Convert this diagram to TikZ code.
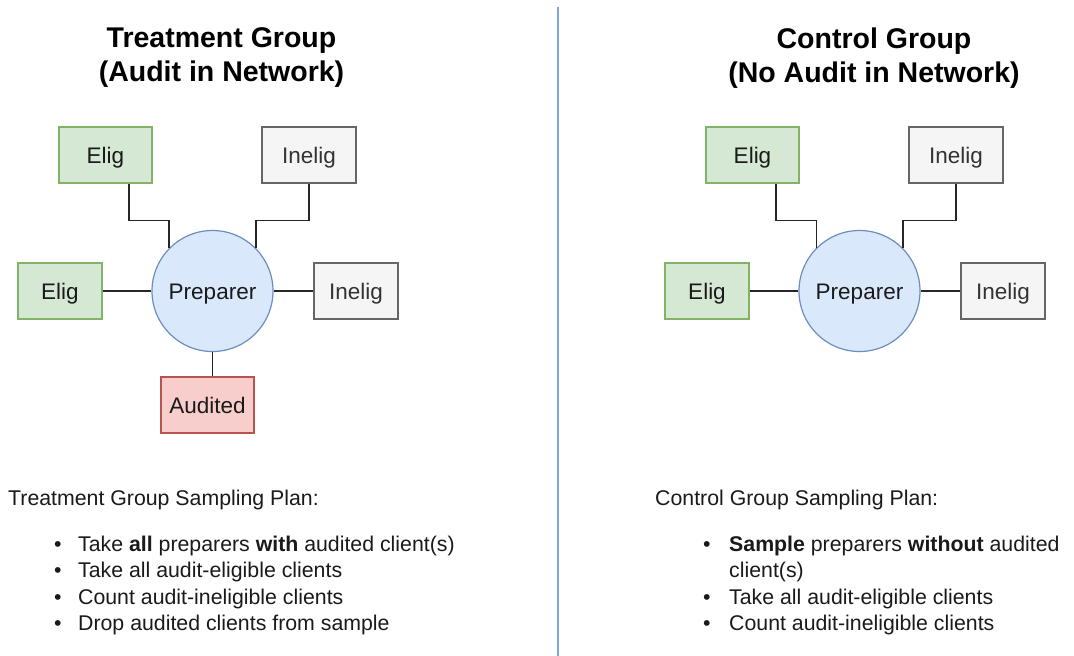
\documentclass[tikz,border=0pt]{standalone}
\usepackage{fontspec}
\setmainfont{Liberation Sans}
\usetikzlibrary{calc}

\definecolor{eligFill}{HTML}{D5E8D4}
\definecolor{eligLine}{HTML}{82B366}
\definecolor{inelFill}{HTML}{F5F5F5}
\definecolor{inelLine}{HTML}{666666}
\definecolor{audFill}{HTML}{F8CECC}
\definecolor{audLine}{HTML}{B85450}
\definecolor{prepFill}{HTML}{DAE8FC}
\definecolor{prepLine}{HTML}{6C8EBF}
\definecolor{splitLine}{HTML}{7EA6E0}
\definecolor{inkText}{HTML}{1A1A1A}

\newcommand\grpTitleFont{\fontsize{28.5}{34}\selectfont\bfseries}
\newcommand\boxFont{\fontsize{22.5}{26}\selectfont}
\newcommand\planFont{\fontsize{21.3}{25.5}\selectfont}

\tikzset{
  boxnode/.style={draw, line width=1.2pt, minimum height=56pt, inner sep=0pt,
    font=\boxFont, text=inkText, text height=16pt, text depth=0pt},
  elig/.style={boxnode, fill=eligFill, draw=eligLine},
  inelig/.style={boxnode, fill=inelFill, draw=inelLine, text=black!80},
  audited/.style={boxnode, fill=audFill, draw=audLine},
  prep/.style={circle, draw=prepLine, fill=prepFill, line width=1.2pt,
    minimum size=121pt, inner sep=0pt, font=\boxFont, text=inkText,
    text height=16pt, text depth=0pt},
  link/.style={draw=black!85, line width=1.6pt},
  grouptitle/.style={align=center, font=\grpTitleFont, text=black},
  plan/.style={anchor=base west, inner sep=0pt, font=\planFont, text=inkText},
  divider/.style={draw=splitLine, line width=1.6pt}
}

% list bullet: a dot in a fixed-width box
\newcommand\bulletItem[2]{\makebox[#1][l]{\textbullet}#2}

\begin{document}
\begin{tikzpicture}[x=1pt, y=-1pt]
  \useasboundingbox (0,0) rectangle (1074,656);
  \fill[white] (0,0) rectangle (1074,656);

  % centre divider
  \coordinate (divtop) at (558,7);
  \coordinate (divbot) at (558,656);
  \draw[divider] (divtop) -- (divbot);

  % ---------- treatment group ----------
  \node[grouptitle] (ttitle) at (221.5,58) {Treatment Group\\(Audit in Network)};

  \node[prep] (tprep) at (212.5,291) {Preparer};
  \node[elig, minimum width=93pt] (tel1) at (105.5,155) {Elig};
  \node[inelig, minimum width=94pt] (tin1) at (309,155) {Inelig};
  \node[elig, minimum width=84pt] (tel2) at (60,291) {Elig};
  \node[inelig, minimum width=84pt] (tin2) at (356,291) {Inelig};
  \node[audited, minimum width=93pt] (taud) at (207.5,405) {Audited};

  \draw[link] ($(tel1.south west)!0.75!(tel1.south east)$) -- ++(0,37) -| (tprep.north west);
  \draw[link] (tin1.south) -- ++(0,37) -| (tprep.north east);
  \draw[link] (tel2.east) -- (tprep.west);
  \draw[link] (tprep.east) -- (tin2.west);
  \draw[link] (tprep.south) -- (tprep.south |- taud.north);

  \node[plan] (tplan) at (8,505) {Treatment Group Sampling Plan:};
  \node[plan] (ti1) at (54,551) {\bulletItem{24pt}{Take \textbf{all} preparers \textbf{with} audited client(s)}};
  \node[plan] (ti2) at (54,577.5) {\bulletItem{24pt}{Take all audit-eligible clients}};
  \node[plan] (ti3) at (54,604) {\bulletItem{24pt}{Count audit-ineligible clients}};
  \node[plan] (ti4) at (54,630) {\bulletItem{24pt}{Drop audited clients from sample}};

  % ---------- control group ----------
  \node[grouptitle] (ctitle) at (874,58) {Control Group\\(No Audit in Network)};

  \node[prep] (cprep) at (859.5,291) {Preparer};
  \node[elig, minimum width=93pt] (cel1) at (752.5,155) {Elig};
  \node[inelig, minimum width=94pt] (cin1) at (956,155) {Inelig};
  \node[elig, minimum width=84pt] (cel2) at (707,291) {Elig};
  \node[inelig, minimum width=84pt] (cin2) at (1003,291) {Inelig};

  \draw[link] ($(cel1.south west)!0.75!(cel1.south east)$) -- ++(0,37) -| (cprep.north west);
  \draw[link] (cin1.south) -- ++(0,37) -| (cprep.north east);
  \draw[link] (cel2.east) -- (cprep.west);
  \draw[link] (cprep.east) -- (cin2.west);

  \node[plan] (cplan) at (655,505) {Control Group Sampling Plan:};
  \node[plan] (ci1) at (703,551) {\bulletItem{26pt}{\textbf{Sample} preparers \textbf{without} audited}};
  \node[plan] (ci1b) at (729,577.5) {client(s)};
  \node[plan] (ci2) at (703,604) {\bulletItem{26pt}{Take all audit-eligible clients}};
  \node[plan] (ci3) at (703,630) {\bulletItem{26pt}{Count audit-ineligible clients}};
\end{tikzpicture}
\end{document}
